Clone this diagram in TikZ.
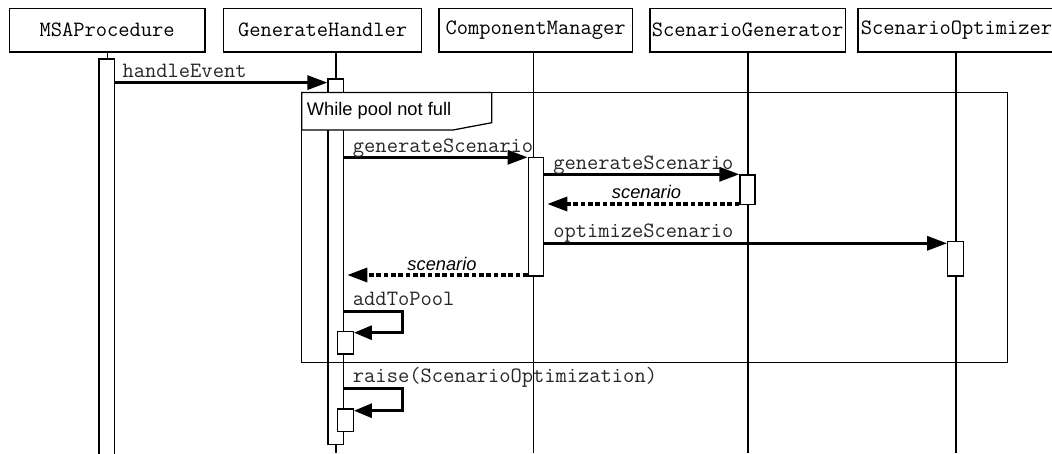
\documentclass[tikz,border=0pt]{standalone}
\usepackage{fontspec}
\setmainfont{Liberation Sans}
\usetikzlibrary{arrows.meta}
\newcommand\actbox[5]{\node[bar,minimum width={(#4-#2)*0.75pt},minimum height={(#5-#3)*0.75pt}] (#1) at ({(#2+#4)/2},{(#3+#5)/2}) {};}
\begin{document}
\begin{tikzpicture}[x=0.75pt,y=-0.75pt,
  actor/.style={draw,line width=0.95pt,minimum height=32.85pt,inner sep=0pt,font=\fontsize{16.4}{18}\selectfont\ttfamily},
  life/.style={line width=0.95pt},
  bar/.style={draw,fill=white,line width=0.95pt,inner sep=0pt},
  msg/.style={line width=2.4pt,-{Triangle[length=15pt,width=10.5pt]}},
  ret/.style={msg,dash pattern=on 3.5pt off 2pt},
  mlabel/.style={font=\fontsize{16.4}{18}\selectfont\ttfamily,anchor=base west,inner sep=0pt,text=black!85},
  rlabel/.style={font=\fontsize{13.7}{16}\selectfont\itshape,anchor=base,inner sep=0pt},
  frame/.style={line width=0.95pt},
]
\useasboundingbox (0,0) rectangle (1052,453);

% actors
\node[actor,minimum width={195.8*0.75pt}] (msa) at (107.1,30.1) {MSAProcedure};
\node[actor,minimum width={198.3*0.75pt}] (gh) at (322.6,30.1) {GenerateHandler};
\node[actor,minimum width={193.2*0.75pt}] (cm) at (535.6,30.1) {ComponentManager};
\node[actor,minimum width={195.3*0.75pt}] (sg) at (747.6,30.1) {ScenarioGenerator};
\node[actor,minimum width={197*0.75pt}] (so) at (956.5,30.1) {ScenarioOptimizer};

% lifelines
\coordinate (lMSA) at (107.3,453);
\coordinate (lGH) at (336,453);
\coordinate (lCM) at (533.4,453);
\coordinate (lSG) at (748,453);
\coordinate (lSO) at (956,453);
\draw[life] (msa.south -| lMSA) -- (lMSA);
\draw[life] (gh.south -| lGH) -- (lGH);
\draw[life] (cm.south -| lCM) -- (lCM);
\draw[life] (sg.south -| lSG) -- (lSG);
\draw[life] (so.south -| lSO) -- (lSO);

% activation bars
\actbox{msab}{99}{59}{114.5}{462}
\actbox{ghb}{328}{79}{343.3}{444.3}
\actbox{cmb}{528.3}{157.3}{543.3}{276}
\actbox{sgb}{740}{175}{755}{204.7}
\actbox{sob}{947.7}{241.7}{963.3}{276}

% loop frame
\draw[frame] (301.7,92.5) rectangle (1007.3,362.7);
\node[draw=none,inner sep=0pt] (loopc) at (301.7,92.5) {};
\draw[frame,fill=white] (loopc.center) -- (491.7,92.5) -- (491.7,122.7) -- (453,130) -- (301.7,130) -- cycle;
\node[font=\fontsize{13.7}{16}\selectfont,anchor=base west,inner sep=0pt] (looplabel) at (306.7,115) {While pool not full};

% message rows
\coordinate (y1) at (0,82.6);
\coordinate (y2) at (0,157.3);
\coordinate (y3) at (0,174.3);
\coordinate (y4) at (0,204);
\coordinate (y5) at (0,243.3);
\coordinate (y6) at (0,275);

\draw[msg] (msab.east |- y1) -- (ghb.west |- y1);
\node[mlabel] (l1) at (122.4,77.5) {handleEvent};

\draw[msg] (ghb.east |- y2) -- (cmb.west |- y2);
\node[mlabel] (l2) at (352.7,152.7) {generateScenario};

\draw[msg] (cmb.east |- y3) -- (sgb.west |- y3);
\node[mlabel] (l3) at (553,169.4) {generateScenario};

\draw[ret] (sgb.west |- y4) -- ([xshift=2.5pt]cmb.east |- y4);
\node[rlabel] (l4) at (646.5,198.3) {scenario};

\draw[msg] (cmb.east |- y5) -- (sob.west |- y5);
\node[mlabel] (l5) at (553,237.4) {optimizeScenario};

\draw[ret] (cmb.west |- y6) -- ([xshift=2.5pt]ghb.east |- y6);
\node[rlabel] (l6) at (442,270) {scenario};

% self messages
\actbox{poolb}{337.7}{331.7}{353.3}{354}
\coordinate (s1a) at (0,311.7);
\coordinate (s1b) at (402.3,332.7);
\draw[line width=2.4pt,-{Triangle[length=13.5pt,width=10.5pt]}] (ghb.east |- s1a) -| (s1b) -- (poolb.east |- s1b);
\node[mlabel] (l7) at (352.7,305.7) {addToPool};

\actbox{raiseb}{337.7}{409}{353.3}{431.7}
\coordinate (s2a) at (0,388.3);
\coordinate (s2b) at (402.3,410.7);
\draw[line width=2.4pt,-{Triangle[length=13.5pt,width=10.5pt]}] (ghb.east |- s2a) -| (s2b) -- (raiseb.east |- s2b);
\node[mlabel] (l8) at (352.7,382) {raise(ScenarioOptimization)};
\end{tikzpicture}
\end{document}
